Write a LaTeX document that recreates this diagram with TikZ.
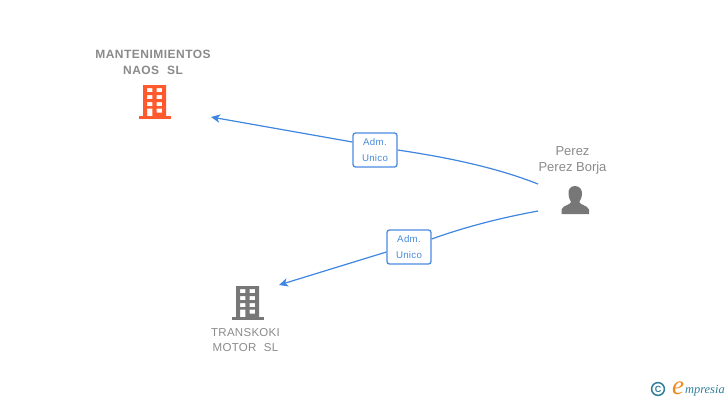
\documentclass[tikz,border=0pt]{standalone}
\usepackage{fontspec}
\setmainfont{Liberation Sans}
\newfontfamily\spacedfont[LetterSpace=4]{Liberation Sans}
\newfontfamily\tightfont[LetterSpace=2.5]{Liberation Sans}
\newfontfamily\rolefont[LetterSpace=3]{Liberation Sans}
\newfontfamily\logofont{Liberation Serif}
\usetikzlibrary{arrows.meta}
\definecolor{linkblue}{HTML}{3F86E0}
\definecolor{labelblue}{HTML}{4A8BDF}
\definecolor{orangeicon}{HTML}{FF5A2E}
\definecolor{greyicon}{HTML}{777777}
\definecolor{greytext}{HTML}{8A8A8A}
\definecolor{logoblue}{HTML}{2F7F99}
\definecolor{logoorange}{HTML}{F08A1D}
\tikzset{
  rel/.style={draw=linkblue,line width=1.2pt},
  relarrow/.style={rel,-{Stealth[length=9pt,width=8.5pt,inset=2.5pt]}},
  rolebox/.style={draw=labelblue,fill=white,line width=1.3pt,rounded corners=2.5pt,minimum width=44pt,minimum height=34pt,inner sep=0pt,align=center,text=labelblue,font=\rolefont\fontsize{9.7}{15.5}\selectfont},
  boldname/.style={align=center,text=greytext,inner sep=0pt,font=\spacedfont\bfseries\fontsize{12}{15.5}\selectfont},
  plainname/.style={align=center,text=greytext,inner sep=0pt,font=\tightfont\fontsize{11.5}{15.5}\selectfont},
  personname/.style={align=center,text=greytext,inner sep=0pt,font=\fontsize{13}{16}\selectfont},
  iconbox/.style={inner sep=0pt,minimum width=32pt,minimum height=34pt}
}
\newcommand{\buildingicon}[3]{%
  \begin{scope}[shift={(#1,#2)}]
    \fill[#3,even odd rule]
      (4,0) rectangle (27,31)
      (8,3) rectangle (13.3,7) (17.7,3) rectangle (23,7)
      (8,10) rectangle (13.3,14) (17.7,10) rectangle (23,14)
      (8,17) rectangle (13.3,21) (17.7,17) rectangle (23,21)
      (8,23.7) rectangle (13.3,31) (17.7,23.7) rectangle (23,27.7);
    \fill[#3] (0,30.5) rectangle (32,33.5);
  \end{scope}}
\begin{document}
\begin{tikzpicture}[x=1pt,y=-1pt]
\useasboundingbox (0,0) rectangle (728,400);
% company and person icons
\node[iconbox] (mant) at (155,101) {};
\buildingicon{139}{85}{orangeicon}
\node[iconbox] (trans) at (248,302) {};
\buildingicon{232}{286}{greyicon}
\node[iconbox,minimum width=28pt,minimum height=28pt] (person) at (575,200) {};
\fill[greyicon] (575,186)
  .. controls (570,186) and (568,190) .. (568.5,194)
  .. controls (568.8,198) and (570,200) .. (571,202)
  .. controls (570.5,205) and (563,205) .. (561.5,209.5)
  -- (561.5,214) -- (589,214) -- (589,209.5)
  .. controls (587,205) and (580,205) .. (579.3,202)
  .. controls (580.5,200) and (581.7,198) .. (582,194)
  .. controls (582.2,190) and (580,186) .. (575,186) -- cycle;
% texts
\node[boldname] (mantname) at (153,62.5) {MANTENIMIENTOS\\NAOS\hspace{4pt} SL};
\node[plainname] (transname) at (245.5,340) {TRANSKOKI\\MOTOR\hspace{4pt} SL};
\node[personname] (personname) at (572.5,160) {Perez\\Perez Borja};
% connector ends
\coordinate (p1) at (538,184);
\coordinate (p2) at (538,211);
\coordinate (t1) at (211,117);
\coordinate (t2) at (279,285);
% role labels
\node[rolebox] (role1) at (375,150) {Adm.\\Unico};
\node[rolebox] (role2) at (409,247) {Adm.\\Unico};
% connectors
\draw[rel] (p1) .. controls (495,167) and (445,157) .. (role1.east |- 0,150);
\draw[relarrow] (role1.west |- 0,142) -- (t1);
\draw[rel] (p2) .. controls (500,218) and (465,227) .. (role2.east |- 0,239);
\draw[relarrow] (role2.west |- 0,252) -- (t2);
% logo
\draw[logoblue,line width=1.5pt] (658,389) circle (6.4pt);
\node[inner sep=0pt,text=logoblue,font=\bfseries\fontsize{9}{9}\selectfont] (copyr) at (658,389) {C};
\node[inner sep=0pt,text=logoorange,font=\logofont\itshape\fontsize{27}{27}\selectfont] (logoe) at (678,388) {e};
\node[inner sep=0pt,anchor=west,text=logoblue,font=\logofont\itshape\fontsize{12.4}{15}\selectfont] (logotext) at (685,390.5) {mpresia};
\end{tikzpicture}
\end{document}
